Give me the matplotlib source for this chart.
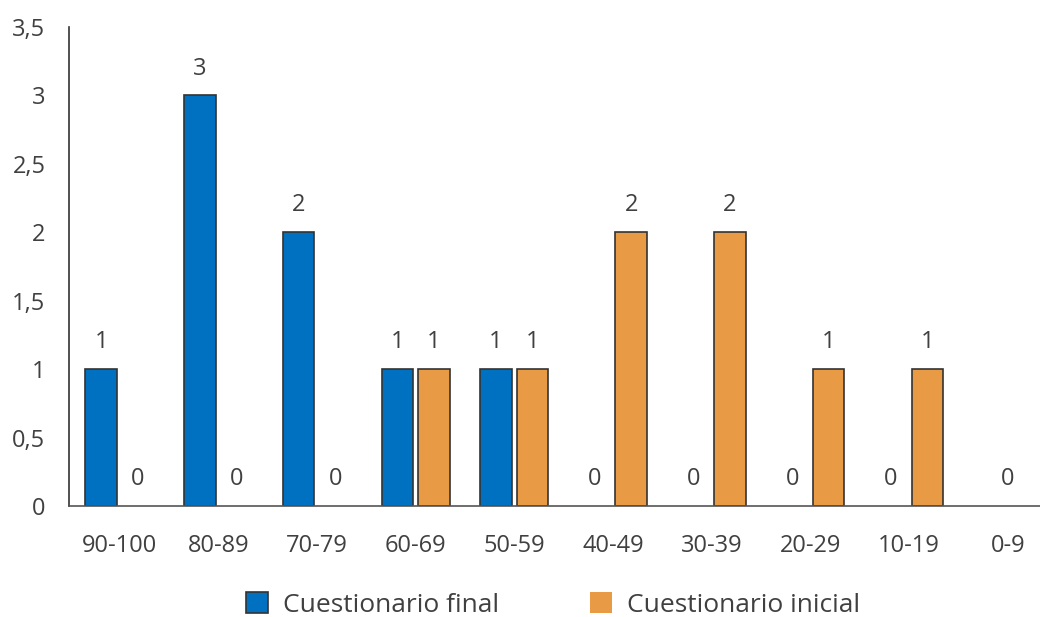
import matplotlib.pyplot as plt
import numpy as np

categorias = ["90-100", "80-89", "70-79", "60-69", "50-59", "40-49", "30-39", "20-29", "10-19", "0-9"]
final = [1, 3, 2, 1, 1, 0, 0, 0, 0, 0]
inicial = [0, 0, 0, 1, 1, 2, 2, 1, 1, 0]
yticks = [0, 0.5, 1, 1.5, 2, 2.5, 3, 3.5]

plt.rcParams['font.family'] = ['Open Sans', 'DejaVu Sans']
texto = '#404040'
fs = 17

fig = plt.figure(figsize=(10.4, 6.17), dpi=100)
ax = fig.add_axes([69/1040, 1 - 506/617, (1040-69)/1040, (506-27)/617])

x = np.arange(len(categorias))
w = 0.32
off = 0.185
b1 = ax.bar(x - off, final, w, color='#0070C0', edgecolor='#333333', linewidth=1.2, label='Cuestionario final')
b2 = ax.bar(x + off, inicial, w, color='#E99A44', edgecolor='#333333', linewidth=1.2, label='Cuestionario inicial')

# barras con valor cero: sin borde
for rects in (b1, b2):
    for r in rects:
        if r.get_height() == 0:
            r.set_linewidth(0)

# etiquetas de valor; si ambas series valen 0, una sola etiqueta centrada
for i in x:
    if final[i] == 0 and inicial[i] == 0:
        pos = [(i, 0)]
    else:
        pos = [(i - off, final[i]), (i + off, inicial[i])]
    for xp, v in pos:
        ax.annotate(str(v), (xp, v), xytext=(0, 15),
                    textcoords='offset points', ha='center', va='baseline',
                    fontsize=fs, color=texto)

s = 98.7
c0 = 119.5
ax.set_xlim((69 - c0) / s, (1040 - c0) / s)
ax.set_ylim(0, 3.5)
ax.set_yticks(yticks)
ax.set_yticklabels([f"{t:g}".replace('.', ',') for t in yticks])
ax.set_xticks(x)
ax.set_xticklabels(categorias)
ax.tick_params(length=0, labelsize=fs, labelcolor=texto)
ax.tick_params(axis='y', pad=17)
ax.tick_params(axis='x', pad=20)
for sp in ('top', 'right'):
    ax.spines[sp].set_visible(False)
ax.spines['left'].set_color('#333333')
ax.spines['bottom'].set_color('#555555')
ax.spines['left'].set_linewidth(1.2)
ax.spines['bottom'].set_linewidth(1.2)

fig.legend(handles=[b1, b2], loc='center', bbox_to_anchor=(553/1040, 1 - 605/617),
           ncol=2, frameon=False, fontsize=19, labelcolor=texto,
           handlelength=0.83, handleheight=0.83, columnspacing=3.45, handletextpad=0.57)

fig.savefig('out.png', dpi=100)
